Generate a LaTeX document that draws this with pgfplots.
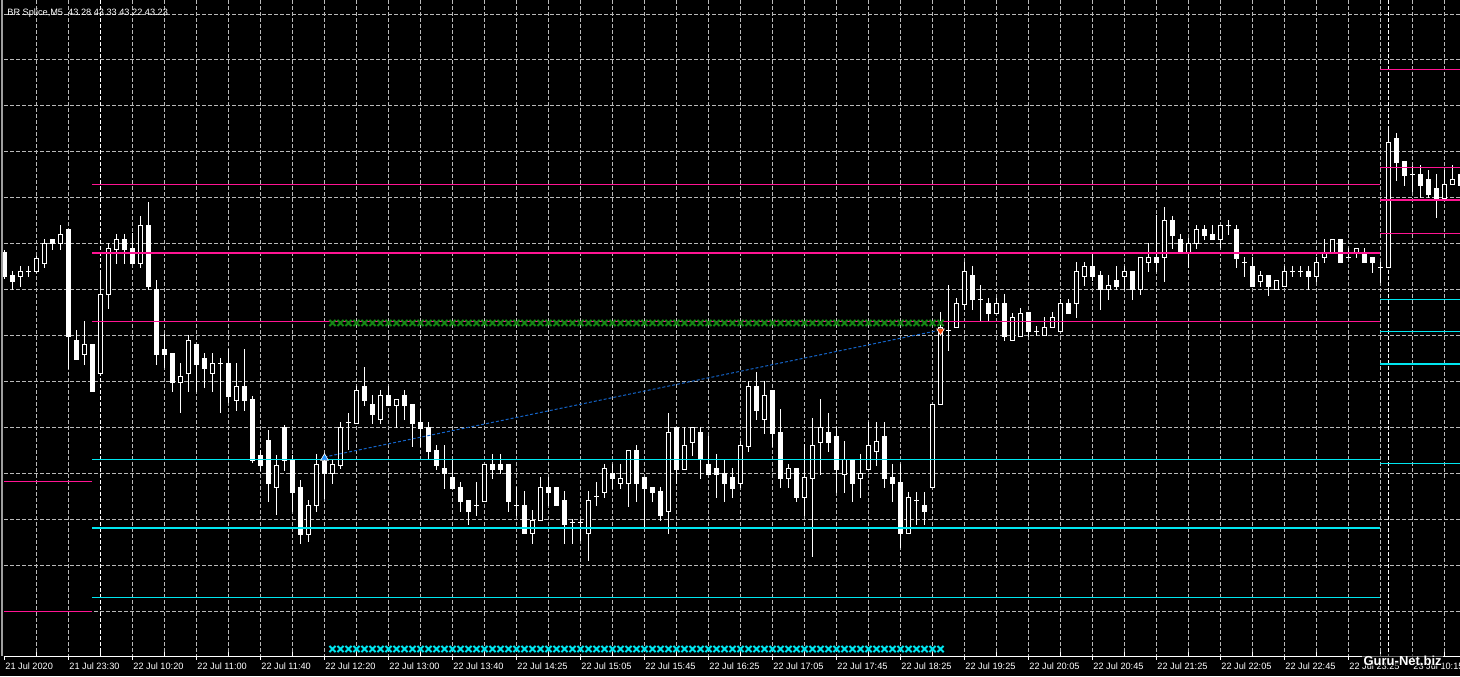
\documentclass[border=0pt]{standalone}
\usepackage{pgfplots}
\pgfplotsset{compat=1.18}
\usepackage{pgfplotstable}
\usepackage{fontspec}
\setmainfont{Liberation Sans}

\definecolor{gridc}{RGB}{185,185,185}
\definecolor{lvpink}{RGB}{255,20,147}
\definecolor{lvcyan}{RGB}{0,230,240}
\definecolor{chgreen}{RGB}{20,135,20}
\definecolor{trendblue}{RGB}{20,100,200}
\definecolor{arrblue}{RGB}{30,144,255}
\definecolor{arrred}{RGB}{255,69,0}
\newcommand\lbl{\fontsize{4.6pt}{5pt}\selectfont}

% candles, pixel coordinates (x = bar centre, y counted from top)
% bear bars (and dojis): body filled
\pgfplotstableread{
x o h l c
4.5 252 250 278 276
12.5 275 271 289 281
28.5 271 266 276 271
52.5 239 239 249 243
68.5 229 229 368 336
76.5 340 330 359 359
92.5 344 344 391 391
124.5 239 234 263 249
132.5 248 233 263 263
148.5 225 202 289 286
156.5 289 280 364 354
164.5 349 334 367 354
172.5 353 353 391 382
196.5 344 344 391 364
204.5 358 353 387 368
220.5 363 358 412 363
228.5 363 349 402 396
244.5 386 349 410 400
252.5 399 396 462 460
260.5 455 450 470 465
268.5 440 430 501 483
284.5 427 425 470 460
292.5 460 455 511 492
300.5 487 480 543 534
324.5 461 455 498 473
348.5 422 413 449 422
364.5 386 367 405 400
372.5 404 395 423 414
388.5 395 386 405 405
404.5 395 390 419 405
412.5 404 404 446 423
420.5 422 409 446 428
428.5 427 422 459 451
436.5 450 445 469 465
444.5 468 445 488 473
452.5 477 460 488 488
460.5 487 482 511 501
468.5 500 500 524 511
476.5 505 482 515 505
492.5 464 454 478 469
500.5 464 454 473 469
508.5 464 464 511 501
516.5 505 487 515 505
524.5 505 491 533 533
548.5 487 477 505 492
556.5 487 487 505 505
564.5 500 491 543 524
572.5 522 519 543 522
580.5 522 519 540 522
596.5 496 482 505 496
612.5 473 464 488 478
636.5 450 445 501 483
644.5 477 477 528 488
652.5 487 487 501 492
660.5 491 487 520 515
676.5 427 427 483 469
700.5 432 427 478 459
708.5 464 436 474 474
716.5 468 454 497 474
724.5 473 460 501 483
732.5 477 468 497 488
756.5 386 372 419 410
772.5 390 390 446 433
780.5 432 409 487 478
796.5 468 468 501 497
828.5 432 413 451 442
836.5 436 427 492 469
852.5 459 459 501 483
884.5 436 422 487 478
892.5 477 464 501 483
900.5 482 464 547 533
916.5 500 492 524 500
924.5 505 492 524 511
948.5 330 285 350 330
972.5 275 266 309 299
980.5 299 285 321 299
988.5 303 298 321 313
1004.5 303 294 340 336
1028.5 312 312 336 331
1036.5 331 326 335 331
1068.5 303 299 313 313
1092.5 266 252 280 276
1100.5 275 271 309 289
1116.5 280 266 289 286
1132.5 271 271 299 289
1156.5 257 215 271 262
1172.5 220 216 248 235
1180.5 239 234 252 252
1204.5 229 225 239 235
1212.5 234 225 239 239
1228.5 225 220 234 225
1236.5 229 225 267 258
1244.5 262 257 276 262
1252.5 266 257 286 286
1268.5 275 275 295 286
1292.5 271 266 276 271
1300.5 271 266 276 271
1308.5 271 266 289 276
1340.5 239 239 262 262
1348.5 257 248 257 257
1364.5 253 248 262 262
1372.5 257 257 272 262
1380.5 267 262 282 267
1396.5 138 133 180 162
1404.5 161 161 185 175
1412.5 174 166 191 174
1420.5 174 165 197 185
1428.5 179 170 197 194
1436.5 188 174 217 198
1460.5 174 170 192 185
}\bears

% bull bars: body hollow
\pgfplotstableread{
x o h l c
20.5 276 266 286 271
36.5 271 256 272 258
44.5 263 239 267 243
60.5 243 225 249 234
84.5 354 321 364 344
100.5 373 274 373 294
108.5 294 243 308 248
116.5 249 234 263 239
140.5 263 216 267 225
180.5 382 363 412 376
188.5 373 335 391 340
212.5 373 353 391 363
236.5 400 363 410 386
276.5 487 455 514 465
308.5 534 500 541 505
316.5 505 454 511 464
332.5 473 460 483 464
340.5 465 422 468 427
356.5 423 386 423 390
380.5 419 390 423 395
396.5 405 399 427 399
484.5 501 464 501 464
532.5 533 510 543 520
540.5 520 477 520 487
588.5 533 491 560 500
604.5 492 464 497 468
620.5 483 464 488 478
628.5 483 450 506 450
668.5 511 413 533 432
684.5 469 427 469 445
692.5 442 427 455 427
740.5 483 441 487 445
748.5 446 381 451 386
764.5 419 381 433 395
788.5 478 464 487 468
804.5 497 444 515 477
812.5 478 418 556 445
820.5 442 399 474 427
844.5 474 441 492 459
860.5 478 454 497 473
868.5 469 422 469 445
876.5 451 422 465 441
908.5 533 492 533 497
932.5 487 404 487 404
940.5 404 312 404 327
956.5 327 298 327 303
964.5 304 262 309 271
996.5 313 298 313 303
1012.5 340 313 340 317
1020.5 336 308 336 313
1044.5 335 317 335 327
1052.5 327 312 327 317
1060.5 331 299 331 303
1076.5 303 262 317 271
1084.5 276 262 285 266
1108.5 289 275 299 285
1124.5 276 266 289 271
1140.5 289 257 294 257
1148.5 262 243 271 257
1164.5 257 207 281 220
1188.5 252 238 267 243
1196.5 243 225 248 229
1220.5 239 225 247 225
1260.5 281 271 286 275
1276.5 289 280 289 280
1284.5 286 266 286 271
1316.5 276 257 281 262
1324.5 257 239 262 253
1332.5 253 239 253 239
1356.5 252 248 257 248
1388.5 267 128 267 142
1444.5 198 170 198 184
1452.5 184 165 184 179
}\bulls

% signal chains (green above, cyan below)
\pgfplotstableread{
x g c
332.5 323 649
340.5 323 649
348.5 323 649
356.5 323 649
364.5 323 649
372.5 323 649
380.5 323 649
388.5 323 649
396.5 323 649
404.5 323 649
412.5 323 649
420.5 323 649
428.5 323 649
436.5 323 649
444.5 323 649
452.5 323 649
460.5 323 649
468.5 323 649
476.5 323 649
484.5 323 649
492.5 323 649
500.5 323 649
508.5 323 649
516.5 323 649
524.5 323 649
532.5 323 649
540.5 323 649
548.5 323 649
556.5 323 649
564.5 323 649
572.5 323 649
580.5 323 649
588.5 323 649
596.5 323 649
604.5 323 649
612.5 323 649
620.5 323 649
628.5 323 649
636.5 323 649
644.5 323 649
652.5 323 649
660.5 323 649
668.5 323 649
676.5 323 649
684.5 323 649
692.5 323 649
700.5 323 649
708.5 323 649
716.5 323 649
724.5 323 649
732.5 323 649
740.5 323 649
748.5 323 649
756.5 323 649
764.5 323 649
772.5 323 649
780.5 323 649
788.5 323 649
796.5 323 649
804.5 323 649
812.5 323 649
820.5 323 649
828.5 323 649
836.5 323 649
844.5 323 649
852.5 323 649
860.5 323 649
868.5 323 649
876.5 323 649
884.5 323 649
892.5 323 649
900.5 323 649
908.5 323 649
916.5 323 649
924.5 323 649
932.5 323 649
940.5 323 649
}\chain

\begin{document}
\begin{tikzpicture}
\fill[black] (0,0) rectangle (730pt,338pt);
\begin{axis}[
  at={(0,0)}, anchor=south west,
  scale only axis, width=730pt, height=338pt,
  xmin=0, xmax=1460, ymin=0, ymax=676,
  y dir=reverse, hide axis, clip=true,
  wick/.style={draw=none, mark=none, forget plot,
    error bars/.cd, y dir=both, y explicit, error mark=none,
    error bar style={white, line width=0.5pt}},
  body/.style={draw=none, mark=none, forget plot,
    error bars/.cd, y dir=both, y explicit, error mark=none,
    error bar style={#1}},
  chainmark/.style={only marks, mark=x, mark size=2.2pt, line width=1pt, #1},
]
% grid
\pgfplotsinvokeforeach{36.5,68.5,...,1445}{
  \draw[gridc, line width=0.5pt, dash pattern=on 1.75pt off 1.25pt] (axis cs:#1,0) -- (axis cs:#1,656);
}
\pgfplotsinvokeforeach{14,59.9,105.8,151.8,197.7,243.6,289.5,335.4,381.4,427.3,473.2,519.1,565,611}{
  \draw[gridc, line width=0.5pt, dash pattern=on 1.75pt off 1.25pt] (axis cs:4,#1) -- (axis cs:1460,#1);
}
% day separators
\draw[white, line width=0.5pt, dash pattern=on 1.75pt off 1.25pt] (axis cs:100.5,0) -- (axis cs:100.5,656);
\draw[white, line width=0.5pt, dash pattern=on 1.75pt off 1.25pt] (axis cs:1388.5,0) -- (axis cs:1388.5,656);

% wicks
\addplot[wick] table[x=x, y expr={(\thisrow{h}+\thisrow{l})/2}, y error expr={(\thisrow{l}-\thisrow{h})/2+0.5}] {\bears};
\addplot[wick] table[x=x, y expr={(\thisrow{h}+\thisrow{l})/2}, y error expr={(\thisrow{l}-\thisrow{h})/2+0.5}] {\bulls};
% bodies
\addplot[body={white, line width=2.5pt}] table[x=x, y expr={(\thisrow{o}+\thisrow{c})/2}, y error expr={(\thisrow{c}-\thisrow{o})/2+0.5}] {\bears};
\addplot[body={white, line width=2.5pt}] table[x=x, y expr={(\thisrow{o}+\thisrow{c})/2}, y error expr={(\thisrow{o}-\thisrow{c})/2+0.5}] {\bulls};
\addplot[body={black, line width=1.5pt}] table[x=x, y expr={(\thisrow{o}+\thisrow{c})/2}, y error expr={(\thisrow{o}-\thisrow{c})/2-0.5}] {\bulls};

% level lines
\addplot[lvpink, line width=0.5pt] coordinates {(4,481) (92,481)};
\addplot[lvpink, line width=0.5pt] coordinates {(4,611) (92,611)};
\addplot[lvpink, line width=0.5pt] coordinates {(92,184) (1380,184)};
\addplot[lvpink, line width=0.8pt] coordinates {(92,253) (1380,253)};
\addplot[lvpink, line width=0.5pt] coordinates {(92,321) (1380,321)};
\addplot[lvcyan, line width=0.5pt] coordinates {(92,459) (1380,459)};
\addplot[lvcyan, line width=0.8pt] coordinates {(92,528) (1380,528)};
\addplot[lvcyan, line width=0.5pt] coordinates {(92,597) (1380,597)};
\addplot[lvpink, line width=0.5pt] coordinates {(1380,69) (1460,69)};
\addplot[lvpink, line width=0.5pt] coordinates {(1380,167) (1460,167)};
\addplot[lvpink, line width=0.8pt] coordinates {(1380,200) (1460,200)};
\addplot[lvpink, line width=0.5pt] coordinates {(1380,233) (1460,233)};
\addplot[lvcyan, line width=0.5pt] coordinates {(1380,299) (1460,299)};
\addplot[lvcyan, line width=0.5pt] coordinates {(1380,331) (1460,331)};
\addplot[lvcyan, line width=0.8pt] coordinates {(1380,364) (1460,364)};
\addplot[lvcyan, line width=0.5pt] coordinates {(1380,463) (1460,463)};

% signal chains
\addplot[chainmark=chgreen] table[x=x, y=g] {\chain};
\addplot[chainmark=lvcyan] table[x=x, y=c] {\chain};

% trend line and arrows
\addplot[trendblue, line width=0.5pt, dash pattern=on 1.5pt off 1pt] coordinates {(324.5,457) (940.5,330)};
\addplot[only marks, mark=triangle*, mark size=2.2pt, mark options={fill=arrblue, draw=white, line width=0.3pt}] coordinates {(324.5,458)};
\addplot[only marks, mark=triangle*, mark size=2.2pt, mark options={rotate=180, fill=arrred, draw=white, line width=0.3pt}] coordinates {(940.5,331)};

% frame, time axis
\draw[gray!75, line width=1pt] (axis cs:2,0) -- (axis cs:2,656);
\draw[white, line width=0.5pt] (axis cs:4,656) -- (axis cs:1460,656);
\pgfplotsinvokeforeach{4.5,68.5,...,1445}{
  \draw[white, line width=0.5pt] (axis cs:#1,656) -- (axis cs:#1,660);
}
\pgfplotsinvokeforeach{36.5,100.5,...,1445}{
  \draw[white, line width=0.5pt] (axis cs:#1,652) -- (axis cs:#1,656);
}
\node[anchor=base west, white, font=\lbl, inner sep=0pt] at (axis cs:7,15) {BR Splice,M5\ \ 43.28 43.33 43.22 43.23};
\node[anchor=base west, white, font=\lbl, inner sep=0pt] at (axis cs:5,669) {21 Jul 2020};
\node[anchor=base west, white, font=\lbl, inner sep=0pt] at (axis cs:69,669) {21 Jul 23:30};
\node[anchor=base west, white, font=\lbl, inner sep=0pt] at (axis cs:133,669) {22 Jul 10:20};
\node[anchor=base west, white, font=\lbl, inner sep=0pt] at (axis cs:197,669) {22 Jul 11:00};
\node[anchor=base west, white, font=\lbl, inner sep=0pt] at (axis cs:261,669) {22 Jul 11:40};
\node[anchor=base west, white, font=\lbl, inner sep=0pt] at (axis cs:325,669) {22 Jul 12:20};
\node[anchor=base west, white, font=\lbl, inner sep=0pt] at (axis cs:389,669) {22 Jul 13:00};
\node[anchor=base west, white, font=\lbl, inner sep=0pt] at (axis cs:453,669) {22 Jul 13:40};
\node[anchor=base west, white, font=\lbl, inner sep=0pt] at (axis cs:517,669) {22 Jul 14:25};
\node[anchor=base west, white, font=\lbl, inner sep=0pt] at (axis cs:581,669) {22 Jul 15:05};
\node[anchor=base west, white, font=\lbl, inner sep=0pt] at (axis cs:645,669) {22 Jul 15:45};
\node[anchor=base west, white, font=\lbl, inner sep=0pt] at (axis cs:709,669) {22 Jul 16:25};
\node[anchor=base west, white, font=\lbl, inner sep=0pt] at (axis cs:773,669) {22 Jul 17:05};
\node[anchor=base west, white, font=\lbl, inner sep=0pt] at (axis cs:837,669) {22 Jul 17:45};
\node[anchor=base west, white, font=\lbl, inner sep=0pt] at (axis cs:901,669) {22 Jul 18:25};
\node[anchor=base west, white, font=\lbl, inner sep=0pt] at (axis cs:965,669) {22 Jul 19:25};
\node[anchor=base west, white, font=\lbl, inner sep=0pt] at (axis cs:1029,669) {22 Jul 20:05};
\node[anchor=base west, white, font=\lbl, inner sep=0pt] at (axis cs:1093,669) {22 Jul 20:45};
\node[anchor=base west, white, font=\lbl, inner sep=0pt] at (axis cs:1157,669) {22 Jul 21:25};
\node[anchor=base west, white, font=\lbl, inner sep=0pt] at (axis cs:1221,669) {22 Jul 22:05};
\node[anchor=base west, white, font=\lbl, inner sep=0pt] at (axis cs:1285,669) {22 Jul 22:45};
\node[anchor=base west, white, font=\lbl, inner sep=0pt] at (axis cs:1349,669) {22 Jul 23:25};
\node[anchor=base west, white, font=\lbl, inner sep=0pt] at (axis cs:1413,669) {23 Jul 10:15};
\node[anchor=base west, white, font=\fontsize{6.5pt}{7pt}\selectfont\bfseries, inner sep=0.6pt, fill=black, fill opacity=0.55, text opacity=1] at (axis cs:1362,665) {Guru-Net.biz};
\end{axis}
\pgfresetboundingbox
\useasboundingbox (0,0) rectangle (730pt,338pt);
\end{tikzpicture}
\end{document}
